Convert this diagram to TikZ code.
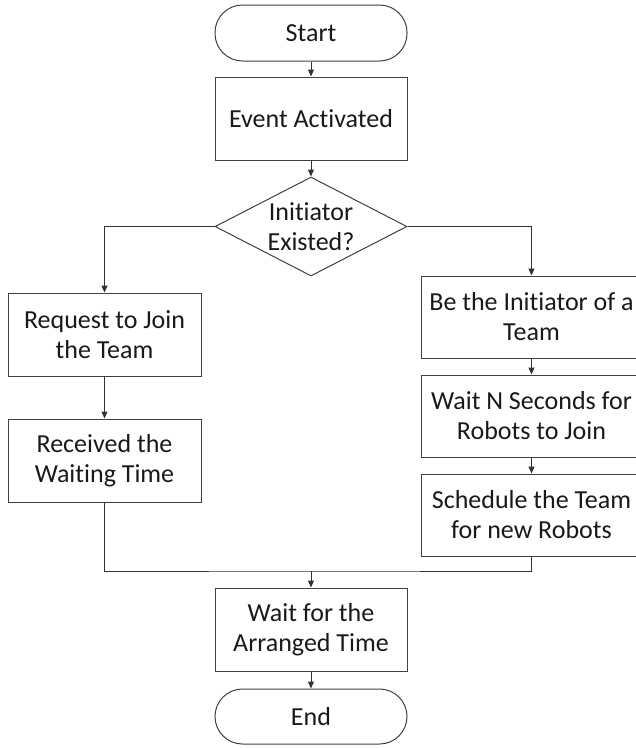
\documentclass[tikz,border=0pt]{standalone}
\usepackage{fontspec}
\setmainfont{Carlito}[Ligatures=NoCommon]
\usetikzlibrary{shapes.geometric,arrows.meta}
\begin{document}
\begin{tikzpicture}[x=1pt,y=-1pt,
  every node/.style={font=\fontsize{26pt}{30pt}\selectfont, text=black!90, align=center, inner sep=0pt},
  procbox/.style={draw=black!75, line width=1pt, rectangle, minimum width=#1, minimum height=83pt},
  procbox/.default=193pt,
  termbox/.style={draw=black!75, line width=1pt, rectangle, rounded corners=27.5pt, minimum width=192pt, minimum height=56pt},
  decbox/.style={draw=black!75, line width=1pt, diamond, minimum width=192pt, minimum height=99pt},
  conn/.style={draw=black!80, line width=1pt, -{Triangle[length=7pt,width=6pt]}},
  plainconn/.style={draw=black!80, line width=1pt}
]
\clip (0,0) rectangle (636,748);
\node[termbox] (start) at (311,33) {Start};
\node[procbox=192pt] (event) at (311,118.5) {Event Activated};
\node[decbox] (dec) at (311,226.5) {};
\node (dectext) at (311,226.5) {Initiator\\Existed?};
\node[procbox] (req) at (104.5,334.5) {Request to Join\\the Team};
\node[procbox] (rec) at (104.5,460.5) {Received the\\Waiting Time};
\node[procbox=221pt, minimum height=82pt] (init) at (531.5,317) {Be the Initiator of a\\Team};
\node[procbox=221pt, minimum height=82pt] (waitn) at (531.5,416) {Wait N Seconds for\\Robots to Join};
\node[procbox=221pt, minimum height=82pt] (sched) at (531.5,515) {Schedule the Team\\for new Robots};
\node[procbox=192pt] (arr) at (311,629.5) {Wait for the\\Arranged Time};
\node[termbox, minimum height=55pt] (end) at (311,716.5) {End};
\coordinate (mj) at (311,571);

\draw[conn] (start) -- (event);
\draw[conn] (event) -- (dec);
\draw[conn] (dec.west) -| (req.north);
\draw[conn] (dec.east) -| (init.north);
\draw[conn] (req) -- (rec);
\draw[conn] (init) -- (waitn);
\draw[conn] (waitn) -- (sched);
\draw[plainconn] (rec.south) |- (mj) -| (sched.south);
\draw[conn] (mj) -- (arr);
\draw[conn] (arr) -- (end);
\end{tikzpicture}
\end{document}
